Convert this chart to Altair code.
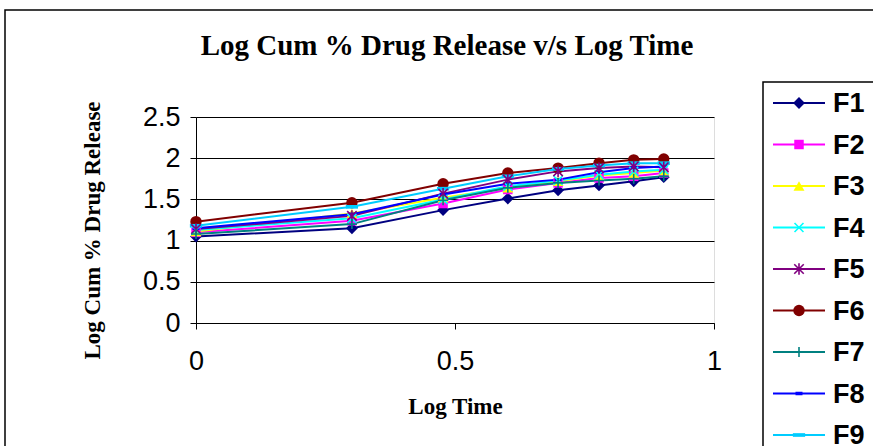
import altair as alt
import pandas as pd

# Log time (log10 of hours 1..8) and log cumulative % drug release per formulation
log_time = [0.0, 0.301, 0.477, 0.602, 0.699, 0.778, 0.845, 0.903]
series = ["F1", "F2", "F3", "F4", "F5", "F6", "F7", "F8", "F9"]
F1 = [1.05, 1.15, 1.37, 1.51, 1.61, 1.67, 1.72, 1.77]
F2 = [1.10, 1.24, 1.45, 1.62, 1.70, 1.76, 1.78, 1.82]
F3 = [1.11, 1.33, 1.52, 1.64, 1.72, 1.79, 1.82, 1.85]
F4 = [1.13, 1.27, 1.50, 1.66, 1.73, 1.80, 1.84, 1.86]
F5 = [1.14, 1.30, 1.57, 1.74, 1.84, 1.88, 1.90, 1.89]
F6 = [1.23, 1.46, 1.69, 1.82, 1.88, 1.94, 1.98, 1.99]
F7 = [1.08, 1.20, 1.49, 1.64, 1.70, 1.73, 1.75, 1.78]
F8 = [1.15, 1.32, 1.56, 1.69, 1.74, 1.83, 1.88, 1.90]
F9 = [1.18, 1.41, 1.63, 1.78, 1.87, 1.91, 1.94, 1.94]
values = [F1, F2, F3, F4, F5, F6, F7, F8, F9]

colors = ["#000080", "#FF00FF", "#FFFF00", "#00FFFF", "#800080",
          "#800000", "#008080", "#0000FF", "#00CCFF"]

# marker outlines as SVG paths in the unit square [-1, 1]
shapes = {
    "F1": "diamond",
    "F2": "square",
    "F3": "triangle-up",
    "F4": "M-1,-1L1,1M-1,1L1,-1",
    "F5": "M-1,-1L1,1M-1,1L1,-1M0,-1.2L0,1.2",
    "F6": "circle",
    "F7": "M-1,0L1,0M0,-1L0,1",
    "F8": "M-0.7,-0.35H0.7V0.35H-0.7Z",
    "F9": "M-1,-0.3H1V0.3H-1Z",
}
marker_size = {"F1": 140, "F2": 90, "F3": 120, "F4": 80, "F5": 90,
               "F6": 130, "F7": 100, "F8": 100, "F9": 150}
filled = {"F1": True, "F2": True, "F3": True, "F4": False, "F5": False,
          "F6": True, "F7": False, "F8": True, "F9": True}

rows = []
for name, ys in zip(series, values):
    for t, v in zip(log_time, ys):
        rows.append({"series": name, "t": t, "v": v, "shape": shapes[name],
                     "msize": marker_size[name], "filled": filled[name]})
df = pd.DataFrame(rows)

legend_df = pd.DataFrame({
    "series": series,
    "shape": [shapes[s] for s in series],
    "msize": [marker_size[s] for s in series],
    "filled": [filled[s] for s in series],
})

color = alt.Color("series:N", scale=alt.Scale(domain=series, range=colors), legend=None)

x_enc = alt.X(
    "t:Q",
    scale=alt.Scale(domain=[0, 1], nice=False),
    axis=alt.Axis(
        values=[0, 0.5, 1], format="~g", title="Log Time", grid=False,
        labelFont="Liberation Sans", labelFontSize=27, labelColor="black",
        labelPadding=19, labelFlush=False, tickSize=6, tickColor="black",
        domainColor="black",
        titleFont="Liberation Serif", titleFontSize=23, titleFontWeight="bold",
        titleColor="black", titleBaseline="alphabetic", titleY=90,
    ),
)
y_enc = alt.Y(
    "v:Q",
    scale=alt.Scale(domain=[0, 2.5], nice=False),
    axis=alt.Axis(
        values=[0, 0.5, 1, 1.5, 2, 2.5], format="~g", title="Log Cum % Drug Release",
        grid=True, gridColor="black", gridWidth=1,
        labelFont="Liberation Sans", labelFontSize=27, labelColor="black",
        labelPadding=10, labelFlush=False, tickSize=6, tickColor="black",
        domainColor="black",
        titleFont="Liberation Serif", titleFontSize=23, titleFontWeight="bold",
        titleColor="black", titleAngle=270, titleBaseline="middle",
        titleAlign="center", titleX=-104, titleY=113,
    ),
)

base = alt.Chart(df)

lines = base.mark_line(strokeWidth=2).encode(x=x_enc, y=y_enc, color=color, detail="series:N")

pts_filled = base.transform_filter("datum.filled").mark_point(filled=True, opacity=1).encode(
    x="t:Q", y="v:Q", color=color,
    shape=alt.Shape("shape:N", scale=None),
    size=alt.Size("msize:Q", scale=None),
)
pts_open = base.transform_filter("!datum.filled").mark_point(filled=False, opacity=1, strokeWidth=1.6).encode(
    x="t:Q", y="v:Q", color=color,
    shape=alt.Shape("shape:N", scale=None),
    size=alt.Size("msize:Q", scale=None),
)

plot = alt.layer(lines, pts_filled, pts_open)

# outer chart frame, chart title and legend box
frame_df = pd.DataFrame({"k": [0], "title": ["Log Cum % Drug Release v/s Log Time"]})
outer = alt.Chart(frame_df).mark_rect(fill=None, stroke="black", strokeWidth=1.5).encode(
    x=alt.value(-191), x2=alt.value(900), y=alt.value(-107), y2=alt.value(500)
)
title = alt.Chart(frame_df).mark_text(
    align="center", baseline="alphabetic", font="Liberation Serif", fontSize=29,
    fontWeight="bold", color="black",
).encode(x=alt.value(251), y=alt.value(-62), text="title:N")
legend_box = alt.Chart(frame_df).mark_rect(fill="white", stroke="black", strokeWidth=1.5).encode(
    x=alt.value(567), x2=alt.value(900), y=alt.value(-35), y2=alt.value(500)
)

leg_y = alt.Y("series:N", scale=alt.Scale(type="point", domain=series, range=[-14, 318], padding=0), axis=None)
leg_lines = alt.Chart(legend_df).mark_rule(strokeWidth=2).encode(
    x=alt.value(577), x2=alt.value(629), y=leg_y, color=color
)
leg_filled = alt.Chart(legend_df).transform_filter("datum.filled").mark_point(filled=True, opacity=1).encode(
    x=alt.value(603), y=leg_y, color=color,
    shape=alt.Shape("shape:N", scale=None), size=alt.Size("msize:Q", scale=None),
)
leg_open = alt.Chart(legend_df).transform_filter("!datum.filled").mark_point(filled=False, opacity=1, strokeWidth=1.6).encode(
    x=alt.value(603), y=leg_y, color=color,
    shape=alt.Shape("shape:N", scale=None), size=alt.Size("msize:Q", scale=None),
)
leg_text = alt.Chart(legend_df).mark_text(
    align="left", baseline="middle", font="Liberation Sans", fontSize=27,
    fontWeight="bold", color="black", dy=1,
).encode(x=alt.value(637), y=leg_y, text="series:N")

legend = alt.layer(leg_lines, leg_filled, leg_open, leg_text)

chart = alt.layer(outer, title, plot, legend_box, legend).resolve_scale(y="independent").properties(
    width=518,
    height=206,
    padding={"left": 196, "top": 117, "right": 159, "bottom": 123},
    autosize=alt.AutoSizeParams(type="none"),
).configure_view(fill="#C0C0C0", stroke="#808080", strokeWidth=1.5).configure(background="white")

chart.save("out.html", embed_options={"renderer": "svg", "actions": False})
